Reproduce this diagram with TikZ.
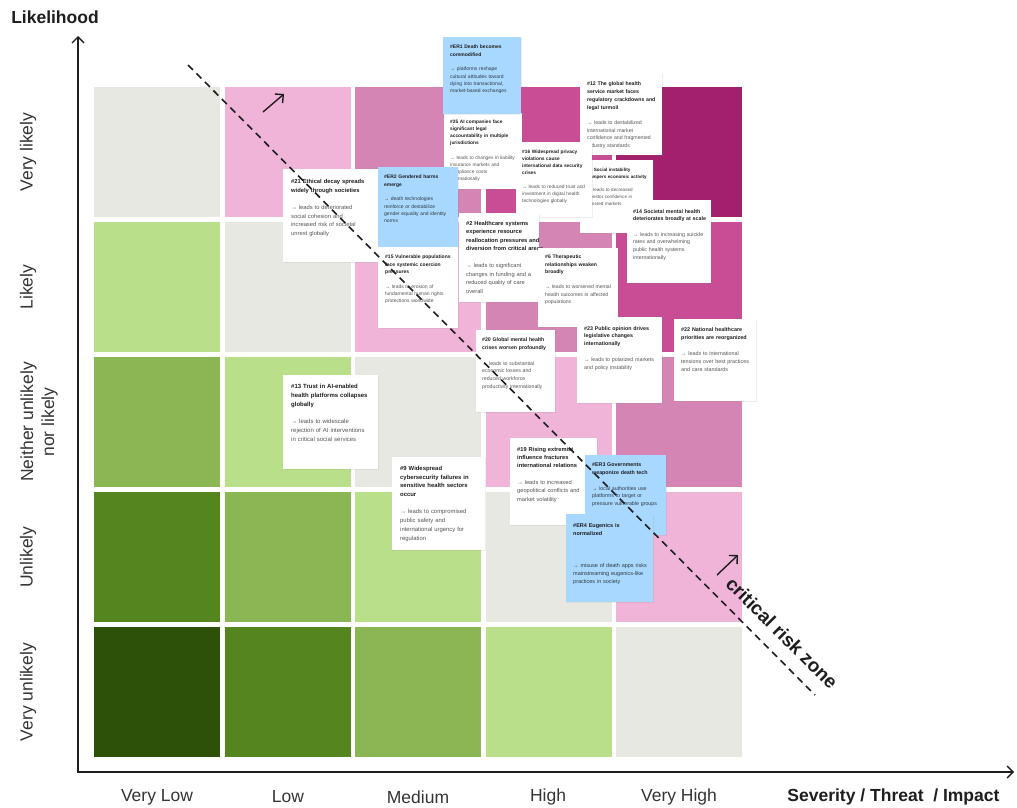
\documentclass[tikz,border=0pt]{standalone}
\usepackage{fontspec}
\setmainfont{Liberation Sans}
\usetikzlibrary{arrows.meta,shadows}
\definecolor{lv0}{HTML}{2E5109}
\definecolor{lv1}{HTML}{55851F}
\definecolor{lv2}{HTML}{8BB654}
\definecolor{lv3}{HTML}{BADF8A}
\definecolor{lv4}{HTML}{E8E8E3}
\definecolor{lv5}{HTML}{F0B4D9}
\definecolor{lv6}{HTML}{D585B4}
\definecolor{lv7}{HTML}{C94D95}
\definecolor{lv8}{HTML}{A2206D}
\definecolor{cardblue}{HTML}{A8D8FF}
\definecolor{ink}{HTML}{1E1E1E}
\definecolor{bodygray}{HTML}{555555}
\definecolor{bodyblue}{HTML}{2E3A46}
\newcommand\cardtxt[3][bodygray]{\setlength\parindent{0pt}\setlength\parskip{0pt}{\color{ink}\bfseries #2\par}\vspace{\baselineskip}{\color{#1}#3\par}}
\tikzset{
  cell/.style={anchor=north west, inner sep=0pt, minimum width=126pt, minimum height=130pt},
  wcard/.style={anchor=north west, inner sep=0pt, fill=white, drop shadow={opacity=0.13, shadow xshift=0.6pt, shadow yshift=-1.2pt}},
  bcard/.style={wcard, fill=cardblue},
  ctxt/.style 2 args={anchor=north west, inner sep=0pt, text width=110pt, align=left, font=\fontsize{#1}{#2}\selectfont},
  axisline/.style={line width=1.4pt, draw=ink, line join=miter, {Straight Barb[length=6pt,width=12pt]}-{Straight Barb[length=6pt,width=12pt]}},
  smallarrow/.style={line width=1.4pt, draw=ink, -{Straight Barb[length=6pt,width=12pt]}},
  critline/.style={line width=1.6pt, draw=ink, dash pattern=on 7pt off 5pt},
  axlab/.style={font=\fontsize{17.5}{21}\selectfont, text=ink!90},
  axtitle/.style={font=\fontsize{17.5}{21}\selectfont\bfseries, text=ink},
  crit/.style={font=\fontsize{19}{22}\selectfont\bfseries, text=ink, rotate=-45}
}
\begin{document}
\begin{tikzpicture}[x=1pt,y=-1pt]
\fill[white] (0,0) rectangle (1017,808);
\useasboundingbox (0,0) rectangle (1017,808);
% grid cells
\foreach \r in {1,...,5}{\foreach \c in {1,...,5}{%
  \pgfmathtruncatemacro\lv{\c-\r+4}%
  \node[cell, fill=lv\lv] (cell\r\c) at ({94+(\c-1)*130.5},{87+(\r-1)*135}) {};}}
% axes
\coordinate (orig) at (78,772);
\coordinate (ytip) at (78,36);
\coordinate (xtip) at (1014,772);
\draw[axisline] (ytip) -- (orig) -- (xtip);
\node[axtitle] (ylab) at (55,17) {Likelihood};
\node[axtitle, anchor=east] (xlab) at (1003,797) {Severity / Threat\ \ / Impact};
\node[axlab] (col1) at (157,797) {Very Low};
\node[axlab] (col2) at (288,797) {Low};
\node[axlab] (col3) at (418,797) {Medium};
\node[axlab] (col4) at (548,797) {High};
\node[axlab] (col5) at (679,797) {Very High};
\node[axlab, rotate=90] (row1) at (28,152) {Very likely};
\node[axlab, rotate=90] (row2) at (28,287) {Likely};
\node[axlab, rotate=90, align=center] (row3) at (39,422) {Neither unlikely\\nor likely};
\node[axlab, rotate=90] (row4) at (28,557) {Unlikely};
\node[axlab, rotate=90] (row5) at (28,692) {Very unlikely};
% cards
\node[wcard, minimum width=78pt, minimum height=76pt] (k25) at (444,113) {};
\node[ctxt={4.8}{7.1}] (t25) at ([shift={(6,7)}]k25.north west) {\cardtxt{\#25 AI companies face\\significant legal\\accountability in multiple\\jurisdictions}{→ leads to changes in liability\\insurance markets and\\compliance costs\\internationally}};
\node[bcard, minimum width=78pt, minimum height=77pt] (ker1) at (443,37) {};
\node[ctxt={5.0}{7.3}] (ter1) at ([shift={(7,8)}]ker1.north west) {\cardtxt[bodyblue]{\#ER1 Death becomes\\commodified}{→ platforms reshape\\cultural attitudes toward\\dying into transactional,\\market-based exchanges}};
\node[wcard, minimum width=82pt, minimum height=82pt] (k12) at (580,73) {};
\node[ctxt={5.2}{7.7}] (t12) at ([shift={(7,9)}]k12.north west) {\cardtxt{\#12 The global health\\service market faces\\regulatory crackdowns and\\legal turmoil}{→ leads to destabilized\\international market\\confidence and fragmented\\industry standards}};
\node[wcard, minimum width=73pt, minimum height=73pt] (k4) at (580,160) {};
\node[ctxt={4.6}{6.8}] (t4) at ([shift={(7,8)}]k4.north west) {\cardtxt{\#4 Social instability\\hampers economic activity}{→ leads to decreased\\investor confidence in\\affected markets}};
\node[wcard, minimum width=84pt, minimum height=83pt] (k14) at (627,200) {};
\node[ctxt={5.3}{7.7}] (t14) at ([shift={(6,9)}]k14.north west) {\cardtxt{\#14 Societal mental health\\deteriorates broadly at scale}{→ leads to increasing suicide\\rates and overwhelming\\public health systems\\internationally}};
\node[wcard, minimum width=76pt, minimum height=75pt] (k16) at (516,142) {};
\node[ctxt={4.8}{7.0}] (t16) at ([shift={(6,8)}]k16.north west) {\cardtxt{\#16 Widespread privacy\\violations cause\\international data security\\crises}{→ leads to reduced trust and\\investment in digital health\\technologies globally}};
\node[wcard, minimum width=97pt, minimum height=93pt] (k21) at (283,169) {};
\node[ctxt={5.8}{8.7}] (t21) at ([shift={(8,10)}]k21.north west) {\cardtxt{\#21 Ethical decay spreads\\widely through societies}{→ leads to deteriorated\\social cohesion and\\increased risk of societal\\unrest globally}};
\node[bcard, minimum width=80pt, minimum height=80pt] (ker2) at (378,167) {};
\node[ctxt={5.0}{7.3}] (ter2) at ([shift={(6,8)}]ker2.north west) {\cardtxt[bodyblue]{\#ER2 Gendered harms\\emerge}{→ death technologies\\reinforce or destabilize\\gender equality and identity\\norms}};
\node[wcard, minimum width=80pt, minimum height=81pt] (k15) at (378,247) {};
\node[ctxt={5.0}{7.3}] (t15) at ([shift={(7,8)}]k15.north west) {\cardtxt{\#15 Vulnerable populations\\face systemic coercion\\pressures}{→ leads to erosion of\\fundamental human rights\\protections worldwide}};
\node[wcard, minimum width=80pt, minimum height=89pt] (k2) at (459,213) {};
\node[ctxt={5.7}{8.5}] (t2) at ([shift={(7,8)}]k2.north west) {\cardtxt{\#2 Healthcare systems\\experience resource\\reallocation pressures and\\diversion from critical areas}{→ leads to significant\\changes in funding and a\\reduced quality of care\\overall}};
\node[wcard, minimum width=80pt, minimum height=79pt] (k6) at (538,248) {};
\node[ctxt={5.1}{7.5}] (t6) at ([shift={(7,7)}]k6.north west) {\cardtxt{\#6 Therapeutic\\relationships weaken\\broadly}{→ leads to worsened mental\\health outcomes in affected\\populations}};
\node[wcard, minimum width=79pt, minimum height=82pt] (k20) at (476,330) {};
\node[ctxt={5.2}{7.7}] (t20) at ([shift={(6,8)}]k20.north west) {\cardtxt{\#20 Global mental health\\crises worsen profoundly}{→ leads to substantial\\economic losses and\\reduced workforce\\productivity internationally}};
\node[wcard, minimum width=85pt, minimum height=86pt] (k23) at (577,317) {};
\node[ctxt={5.3}{7.8}] (t23) at ([shift={(7,9)}]k23.north west) {\cardtxt{\#23 Public opinion drives\\legislative changes\\internationally}{→ leads to polarized markets\\and policy instability}};
\node[wcard, minimum width=82pt, minimum height=82pt] (k22) at (674,319) {};
\node[ctxt={5.4}{8.0}] (t22) at ([shift={(7,8)}]k22.north west) {\cardtxt{\#22 National healthcare\\priorities are reorganized}{→ leads to international\\tensions over best practices\\and care standards}};
\node[wcard, minimum width=95pt, minimum height=94pt] (k13) at (283,375) {};
\node[ctxt={6.0}{8.8}] (t13) at ([shift={(8,9)}]k13.north west) {\cardtxt{\#13 Trust in AI-enabled\\health platforms collapses\\globally}{→ leads to widescale\\rejection of AI interventions\\in critical social services}};
\node[wcard, minimum width=93pt, minimum height=93pt] (k9) at (392,457) {};
\node[ctxt={5.9}{8.7}] (t9) at ([shift={(8,9)}]k9.north west) {\cardtxt{\#9 Widespread\\cybersecurity failures in\\sensitive health sectors\\occur}{→ leads to compromised\\public safety and\\international urgency for\\regulation}};
\node[wcard, minimum width=87pt, minimum height=87pt] (k19) at (510,438) {};
\node[ctxt={5.7}{8.3}] (t19) at ([shift={(7,9)}]k19.north west) {\cardtxt{\#19 Rising extremist\\influence fractures\\international relations}{→ leads to increased\\geopolitical conflicts and\\market volatility}};
\node[bcard, minimum width=81pt, minimum height=80pt] (ker3) at (585,455) {};
\node[ctxt={5.3}{7.7}] (ter3) at ([shift={(7,8)}]ker3.north west) {\cardtxt[bodyblue]{\#ER3 Governments\\weaponize death tech}{→ local authorities use\\platforms to target or\\pressure vulnerable groups}};
\node[bcard, minimum width=87pt, minimum height=88pt] (ker4) at (566,514) {};
\node[ctxt={5.5}{8.0}] (ter4) at ([shift={(7,9)}]ker4.north west) {\cardtxt[bodyblue]{\#ER4 Eugenics is\\normalized}{\vspace{2\baselineskip}→ misuse of death apps risks\\mainstreaming eugenics-like\\practices in society}};
% critical risk line
\coordinate (d1) at (188,65);
\coordinate (d2) at (815,695);
\draw[critline] (d1) -- (d2);
\coordinate (a1s) at (263,112);
\coordinate (a1e) at (284,94);
\draw[smallarrow] (a1s) -- (a1e);
\coordinate (a2s) at (717,575);
\coordinate (a2e) at (738,555);
\draw[smallarrow] (a2s) -- (a2e);
\node[crit] (crz) at (782,633) {critical risk zone};
\end{tikzpicture}
\end{document}
